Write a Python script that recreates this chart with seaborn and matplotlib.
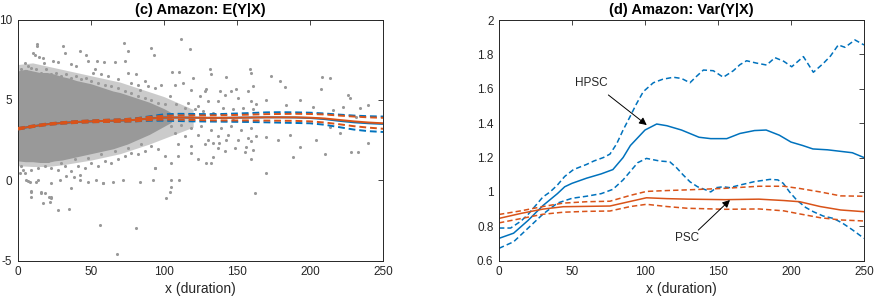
import numpy as np
import pandas as pd
import matplotlib
matplotlib.use('Agg')
import matplotlib.pyplot as plt
import seaborn as sns

sns.set_theme(style='white')
plt.rcParams['font.family'] = ['Liberation Sans', 'DejaVu Sans']

BLUE = '#0072BD'
ORANGE = '#D95319'
GREY = '#999999'
DARK = '#262626'

# ---------------- panel (c): E(Y|X) ----------------
# dense core of the point cloud (envelope)
core_x = [0, 5, 10, 15, 20, 25, 30, 35, 40, 45, 50, 55, 60, 65, 70, 75, 80, 85, 90, 95, 100, 105]
core_hi = [6.8, 6.9, 6.8, 6.7, 6.7, 6.6, 6.45, 6.35, 6.2, 6.1, 6.0, 5.85, 5.7, 5.55, 5.45, 5.3, 5.15,
           5.0, 4.85, 4.65, 4.45, 4.2]
core_lo = [1.2, 1.15, 1.15, 1.1, 1.1, 1.2, 1.25, 1.35, 1.45, 1.55, 1.65, 1.75, 1.85, 1.95, 2.1, 2.25,
           2.45, 2.65, 2.85, 3.1, 3.35, 3.6]
# looser, speckled fringe around the core
halo_x = [0, 10, 20, 30, 40, 50, 60, 70, 80, 90, 100, 110, 120]
halo_hi = [7.2, 7.3, 7.1, 6.9, 6.7, 6.5, 6.3, 6.1, 5.8, 5.5, 5.2, 4.8, 4.4]
halo_lo = [0.9, 0.85, 0.85, 0.95, 1.1, 1.25, 1.45, 1.65, 1.95, 2.25, 2.6, 2.95, 3.3]

# individual (sparser) points
pts_x = [13.0, 13.0, 10.3, 11.9, 14.2, 17.1, 17.8, 4.6, 6.8, 3.4, 30.8, 32.4, 42.2, 46.3, 24.0, 27.4,
         36.5, 40.0, 48.0, 54.1, 52.5, 51.4, 58.9, 66.2, 72.4, 75.3, 73.0, 75.3, 81.0, 91.3, 93.1, 86.8,
         82.2, 89.0, 93.6, 98.2, 105.5, 110.3, 111.9, 118.0, 107.3, 113.0, 119.9, 118.7, 124.4, 127.8,
         131.3, 132.4, 138.1, 141.5, 146.1, 150.7, 157.5, 159.8, 159.8, 163.2, 137.0, 130.1, 123.3, 116.4,
         103.9, 108.4, 114.2, 121.0, 126.7, 133.6, 140.4, 147.3, 154.1, 161.0, 105.0, 111.9, 118.7, 125.6,
         132.4, 139.3, 146.1, 153.0, 159.8, 107.3, 114.2, 123.3, 130.1, 137.0, 143.8, 150.7, 157.5, 163.2,
         109.6, 118.7, 127.8, 137.0, 148.4, 159.8, 109.6, 123.3, 132.4, 141.5, 105.0, 93.6, 100.5, 118.7,
         159.8,
         2.3, 4.6, 9.1, 13.7, 18.3, 22.8, 27.4, 32.0, 36.5, 41.1, 45.7, 50.2, 54.8, 59.4, 63.9, 68.5, 73.0,
         77.6, 82.2, 86.8, 91.3, 95.9, 11.4, 20.5, 29.7, 38.8, 47.9, 57.1, 66.2, 75.3, 84.5, 6.8, 13.7,
         22.8, 33.1, 42.2, 53.7, 58.2, 9.1, 16.0, 22.8,
         2.3, 5.7, 9.1, 12.6, 16.0, 19.4, 22.8, 26.3, 29.7, 33.1, 36.5, 40.0, 43.4, 46.8, 50.2, 54.8, 59.4,
         63.9, 68.5, 73.0, 77.6, 82.2, 86.8, 91.3, 95.9, 100.5, 61.6, 68.5, 57.1, 77.6, 83.3,
         173.5, 179.2, 161.3, 182.6, 208.4, 213.5, 207.8, 226.0, 227.2, 234.0, 239.7, 149.5, 129.0, 170.0,
         183.8, 193.0, 202.0, 215.7, 222.6, 231.7, 138.0, 156.4, 155.2, 161.0, 170.0, 178.0, 186.0, 188.4,
         193.0, 204.0, 210.0, 228.3, 232.9, 239.7, 220.3, 213.5, 170.0, 162.0, 147.0, 133.6, 129.0, 133.6,
         142.7, 158.7, 142.7,
         93.6, 105.0, 105.0, 103.9, 101.6, 110.3, 92.5, 83.3, 71.9, 65.0, 58.2, 55.9, 81.0, 67.8, 47.9,
         42.2, 38.1, 36.5, 28.5, 27.4, 34.9, 21.7, 17.1, 21.2, 18.3, 16.0, 9.1, 9.1, 12.6, 8.0, 5.7, 1.1,
         3.4, 22.8]
pts_y = [8.5, 8.34, 7.93, 7.76, 7.68, 7.6, 7.3, 7.3, 7.1, 6.7, 8.34, 7.93, 8.03, 7.82, 7.4, 7.34,
         7.2, 7.1, 7.4, 7.4, 6.89, 6.68, 7.34, 7.37, 8.55, 8.03, 7.4, 6.68, 6.58, 8.24, 7.82, 6.16,
         5.95, 5.85, 5.75, 5.95, 6.74, 6.74, 8.76, 8.17, 5.95, 6.06, 6.37, 5.64, 5.23, 5.54,
         6.89, 6.58, 5.54, 5.33, 5.54, 5.12, 5.54, 6.68, 4.92, 4.71, 4.92, 4.92, 4.61, 4.81,
         5.23, 4.71, 4.5, 4.4, 4.3, 4.19, 4.5, 4.4, 4.5, 4.4, 3.36, 3.46, 3.26, 3.36,
         3.15, 3.26, 3.36, 3.15, 3.26, 2.95, 2.74, 2.84, 2.53, 2.74, 2.84, 2.53, 2.63, 2.74,
         2.22, 2.12, 2.22, 2.01, 2.01, 2.43, 1.49, 1.29, 1.08, 1.8, 1.08, 0.77, 1.49, 1.7,
         1.29,
         0.87, 0.46, 0.66, 0.77, 0.87, 0.77, 0.66, 0.87, 0.56, 0.87, 0.77, 1.08, 0.87, 1.18, 1.08, 1.29, 1.49,
         1.7, 1.6, 1.8, 2.12, 1.91, 1.29, 1.18, 1.08, 1.29, 1.39, 1.6, 1.8, 2.01, 2.22, -0.06, 0.04,
         -0.17, 0.25, 0.35, 0.04, -0.17, -0.68, -0.79, -1.04,
         6.89, 6.78, 6.99, 6.89, 6.68, 6.89, 6.58, 6.68, 6.47, 6.58, 6.37, 6.47, 6.27, 6.37, 6.16, 6.06, 5.95,
         5.85, 5.75, 5.54, 5.44, 5.23, 5.12, 5.02, 4.81, 4.71, 6.47, 6.27, 6.58, 6.06, 5.64,
         6.5, 6.2, 5.85, 5.77, 6.45, 6.35, 5.7, 5.3, 5.1, 4.47, 4.68, 5.65, 5.7, 5.0,
         4.68, 5.0, 4.57, 4.36, 4.57, 3.95, 2.29, 2.09, 1.78, 1.88, 2.7, 2.5, 2.8, 1.46,
         2.09, 2.5, 1.63, 1.77, 1.77, 2.3, 2.91, 3.33, 0.47, -0.81, 3.74, 1.46, 1.05, 2.29,
         2.5, 6.95, 6.4,
         0.74, 0.01, -0.4, -0.71, -1.13, 0.01, 0.01, -0.09, 0.01, -0.09, -0.19, -2.78, -2.99, -4.58, -0.09,
         0.01, 0.22, -0.5, 0.01, -1.85, -1.81, -1.33, -1.44, -1.02, -0.81, -0.71, -0.71, -1.02, -0.09, -0.09, 0.01, 0.43,
         0.64, -1.13]

mean_x = [0, 10, 20, 30, 40, 50, 60, 70, 80, 90, 100, 110, 120, 130, 140, 150, 160, 170, 180, 190, 200,
          210, 220, 230, 240, 250]
psc_mean = [3.2, 3.35, 3.48, 3.56, 3.62, 3.66, 3.69, 3.71, 3.75, 3.84, 3.89, 3.9, 3.89, 3.88, 3.88, 3.89,
            3.9, 3.91, 3.91, 3.91, 3.89, 3.84, 3.75, 3.66, 3.59, 3.54]
psc_mean_hi = [3.25, 3.4, 3.53, 3.61, 3.68, 3.72, 3.76, 3.79, 3.84, 3.94, 4.01, 4.03, 4.03, 4.03, 4.04,
               4.06, 4.08, 4.11, 4.12, 4.13, 4.12, 4.09, 4.02, 3.96, 3.91, 3.88]
psc_mean_lo = [3.15, 3.3, 3.43, 3.51, 3.56, 3.6, 3.62, 3.63, 3.66, 3.74, 3.77, 3.77, 3.75, 3.73, 3.72,
               3.72, 3.72, 3.71, 3.7, 3.69, 3.66, 3.59, 3.48, 3.36, 3.27, 3.2]
hpsc_mean = [3.2, 3.35, 3.48, 3.56, 3.62, 3.66, 3.69, 3.71, 3.75, 3.84, 3.9, 3.9, 3.89, 3.88, 3.88, 3.89,
             3.9, 3.91, 3.91, 3.9, 3.87, 3.8, 3.69, 3.6, 3.54, 3.5]
hpsc_mean_hi = [3.24, 3.39, 3.52, 3.6, 3.67, 3.71, 3.75, 3.78, 3.84, 3.97, 4.1, 4.13, 4.12, 4.11, 4.12,
                4.15, 4.18, 4.22, 4.23, 4.22, 4.2, 4.15, 4.08, 4.02, 3.98, 3.96]
hpsc_mean_lo = [3.16, 3.31, 3.44, 3.52, 3.57, 3.61, 3.63, 3.64, 3.66, 3.7, 3.7, 3.68, 3.66, 3.65, 3.64,
                3.63, 3.62, 3.6, 3.58, 3.56, 3.54, 3.45, 3.3, 3.15, 3.05, 3.0]

# ---------------- panel (d): Var(Y|X) ----------------
hv_x = [0, 10, 20, 30, 40, 45, 50, 60, 70, 78, 85, 90, 100, 108, 115, 125, 137, 145, 156, 165, 175,
        183, 192, 200, 208, 215, 225, 235, 242, 250]
hpsc_var = [0.73, 0.76, 0.835, 0.92, 0.99, 1.03, 1.05, 1.08, 1.105, 1.13, 1.2, 1.27, 1.36, 1.395, 1.385,
            1.36, 1.318, 1.31, 1.31, 1.34, 1.357, 1.36, 1.33, 1.29, 1.27, 1.25, 1.245, 1.235, 1.228, 1.2]
hu_x = [0, 8, 15, 20, 25, 30, 35, 40, 45, 51, 60, 65, 71.5, 76, 80.6, 85, 89.7, 94, 98.8, 105.7, 112,
        119.4, 125, 130.8, 135, 140, 146.8, 153.6, 160.5, 165, 169.6, 176, 183.3, 189, 195, 200.5,
        208.5, 215.3, 222.2, 227, 232.4, 237, 243.8, 250]
hpsc_var_hi = [0.79, 0.79, 0.83, 0.87, 0.92, 0.97, 1.0, 1.04, 1.09, 1.13, 1.16, 1.18, 1.2, 1.22, 1.28,
               1.36, 1.437, 1.51, 1.583, 1.635, 1.655, 1.667, 1.66, 1.635, 1.67, 1.709, 1.705, 1.667,
               1.705, 1.74, 1.763, 1.75, 1.738, 1.781, 1.76, 1.728, 1.787, 1.696, 1.748, 1.79, 1.855,
               1.841, 1.884, 1.855]
hl_x = [0, 10, 20, 30, 40, 50, 60, 70, 78, 85, 90, 95, 101, 110, 117, 121.7, 126, 130.8, 136, 142.2,
        145, 149, 153.6, 158, 165, 175, 185.6, 191, 194.7, 199, 203.9, 210, 215.3, 222, 229, 235, 242, 250]
hpsc_var_lo = [0.672, 0.71, 0.79, 0.87, 0.935, 0.963, 0.975, 0.99, 1.015, 1.07, 1.12, 1.17, 1.195,
               1.18, 1.175, 1.14, 1.1, 1.059, 1.03, 1.01, 1.0, 1.025, 1.03, 1.025, 1.04, 1.06, 1.073,
               1.07, 1.05, 1.0, 0.953, 0.91, 0.885, 0.86, 0.846, 0.82, 0.78, 0.73]
pv_x = [0, 15, 30, 44, 60, 76, 90, 101, 115, 129, 155, 178, 195, 206, 220, 234, 250]
psc_var = [0.846, 0.875, 0.9, 0.914, 0.916, 0.918, 0.945, 0.966, 0.961, 0.958, 0.955, 0.958, 0.95, 0.943,
           0.915, 0.895, 0.885]
psc_var_hi = [0.869, 0.89, 0.915, 0.935, 0.943, 0.946, 0.98, 1.003, 1.008, 1.012, 1.021, 1.033, 1.033,
              1.02, 1.0, 0.977, 0.975]
psc_var_lo = [0.82, 0.845, 0.87, 0.882, 0.887, 0.889, 0.915, 0.928, 0.915, 0.905, 0.899, 0.901, 0.89,
              0.872, 0.85, 0.837, 0.831]

x_ticks = [0, 50, 100, 150, 200, 250]
yticks_c = [-5, 0, 5, 10]
yticks_d = [0.6, 0.8, 1, 1.2, 1.4, 1.6, 1.8, 2]

fig = plt.figure(figsize=(8.75, 3.01), dpi=100)
ax1 = fig.add_axes([18 / 875, 40.5 / 301, 365 / 875, 241 / 301])
ax2 = fig.add_axes([499 / 875, 40.3 / 301, 365 / 875, 240.7 / 301])

DASH = (0, (3.5, 2))

# panel (c)
ax1.fill_between(halo_x, halo_lo, halo_hi, color=GREY, alpha=0.5, linewidth=0, zorder=1)
ax1.fill_between(core_x, core_lo, core_hi, color=GREY, linewidth=0, zorder=1)
sns.scatterplot(x=pts_x, y=pts_y, ax=ax1, color=GREY, marker='o', s=5, linewidth=0, zorder=2)
sns.lineplot(x=mean_x, y=hpsc_mean, ax=ax1, color=BLUE, lw=1.4, estimator=None, sort=False, zorder=3)
sns.lineplot(x=mean_x, y=hpsc_mean_hi, ax=ax1, color=BLUE, lw=1.4, linestyle=DASH, estimator=None, sort=False, zorder=3)
sns.lineplot(x=mean_x, y=hpsc_mean_lo, ax=ax1, color=BLUE, lw=1.4, linestyle=DASH, estimator=None, sort=False, zorder=3)
sns.lineplot(x=mean_x, y=psc_mean, ax=ax1, color=ORANGE, lw=1.4, estimator=None, sort=False, zorder=4)
sns.lineplot(x=mean_x, y=psc_mean_hi, ax=ax1, color=ORANGE, lw=1.4, linestyle=DASH, estimator=None, sort=False, zorder=4)
sns.lineplot(x=mean_x, y=psc_mean_lo, ax=ax1, color=ORANGE, lw=1.4, linestyle=DASH, estimator=None, sort=False, zorder=4)

# panel (d)
sns.lineplot(x=hv_x, y=hpsc_var, ax=ax2, color=BLUE, lw=1.1, estimator=None, sort=False)
sns.lineplot(x=hu_x, y=hpsc_var_hi, ax=ax2, color=BLUE, lw=1.1, linestyle=DASH, estimator=None, sort=False)
sns.lineplot(x=hl_x, y=hpsc_var_lo, ax=ax2, color=BLUE, lw=1.1, linestyle=DASH, estimator=None, sort=False)
sns.lineplot(x=pv_x, y=psc_var, ax=ax2, color=ORANGE, lw=1.1, estimator=None, sort=False)
sns.lineplot(x=pv_x, y=psc_var_hi, ax=ax2, color=ORANGE, lw=1.1, linestyle=DASH, estimator=None, sort=False)
sns.lineplot(x=pv_x, y=psc_var_lo, ax=ax2, color=ORANGE, lw=1.1, linestyle=DASH, estimator=None, sort=False)

arrow = dict(arrowstyle='-|>', color='black', lw=0.7, mutation_scale=11, shrinkA=0, shrinkB=0)
ax2.annotate('', xy=(101.2, 1.389), xytext=(74.9, 1.564), arrowprops=arrow)
ax2.text(63.5, 1.632, 'HPSC', ha='center', va='center', fontsize=8.5, color=DARK)
ax2.annotate('', xy=(158.2, 0.953), xytext=(136.5, 0.778), arrowprops=arrow)
ax2.text(128.5, 0.73, 'PSC', ha='center', va='center', fontsize=8.5, color=DARK)

for ax, title, yt, ylim in [(ax1, '(c) Amazon: E(Y|X)', yticks_c, (-5, 10)),
                            (ax2, '(d) Amazon: Var(Y|X)', yticks_d, (0.6, 2))]:
    ax.set_xlim(0, 250)
    ax.set_ylim(*ylim)
    ax.set_xticks(x_ticks)
    ax.set_yticks(yt)
    ax.set_yticklabels(['%g' % v for v in yt])
    ax.set_xlabel('x (duration)', fontsize=10, color=DARK, labelpad=3)
    ax.set_ylabel('')
    ax.set_title(title, fontsize=10.5, fontweight='bold', color='black', pad=4)
    ax.tick_params(direction='in', top=True, right=True, length=3.5, width=0.6,
                   labelsize=8.5, labelcolor=DARK, color=DARK, pad=4)
    for sp in ax.spines.values():
        sp.set_visible(True)
        sp.set_color(DARK)
        sp.set_linewidth(0.7)
    ax.set_facecolor('white')

fig.savefig('out.png', dpi=100, facecolor='white')
